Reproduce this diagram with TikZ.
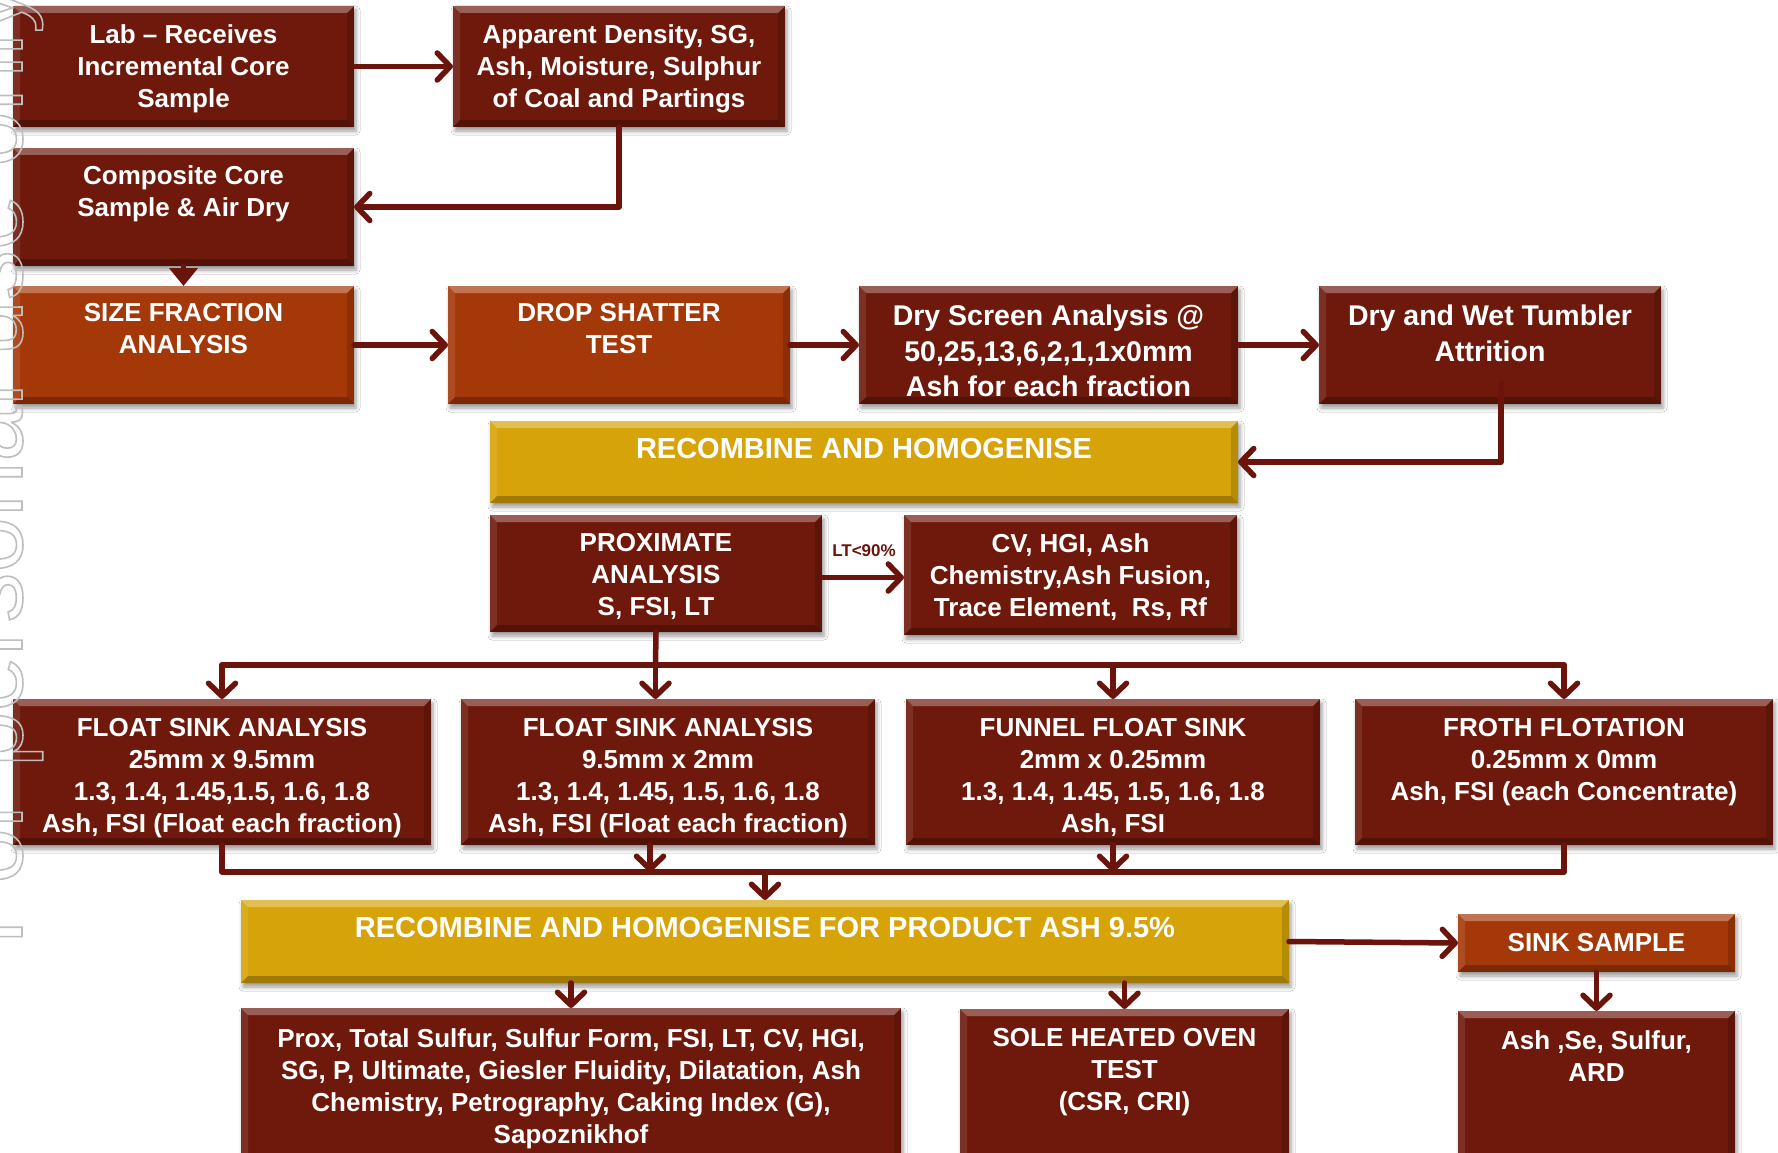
\documentclass[tikz,border=0pt]{standalone}
\usepackage{fontspec}
\newfontfamily\arial{Liberation Sans}
\usetikzlibrary{arrows.meta,shadows.blur}
\definecolor{dred}{RGB}{110,25,12}
\definecolor{orng}{RGB}{165,56,8}
\definecolor{ylw}{RGB}{214,164,8}
\definecolor{arr}{RGB}{106,20,12}
\definecolor{wmk}{RGB}{190,190,190}
\tikzset{
  bev/.style={path picture={
    \fill[white,opacity=0.30] (path picture bounding box.north west) -- (path picture bounding box.north east) -- ([xshift=-7pt,yshift=-7pt]path picture bounding box.north east) -- ([xshift=7pt,yshift=-7pt]path picture bounding box.north west) -- cycle;
    \fill[white,opacity=0.10] (path picture bounding box.north west) -- ([xshift=7pt,yshift=-7pt]path picture bounding box.north west) -- ([xshift=7pt,yshift=7pt]path picture bounding box.south west) -- (path picture bounding box.south west) -- cycle;
    \fill[black,opacity=0.15] (path picture bounding box.north east) -- ([xshift=-7pt,yshift=-7pt]path picture bounding box.north east) -- ([xshift=-7pt,yshift=7pt]path picture bounding box.south east) -- (path picture bounding box.south east) -- cycle;
    \fill[black,opacity=0.25] (path picture bounding box.south west) -- ([xshift=7pt,yshift=7pt]path picture bounding box.south west) -- ([xshift=-7pt,yshift=7pt]path picture bounding box.south east) -- (path picture bounding box.south east) -- cycle;
  }},
  boxbase/.style={rectangle, inner sep=0pt, outer sep=0pt, anchor=north west, bev,
    blur shadow={shadow xshift=2pt, shadow yshift=-4pt, shadow blur radius=4pt, shadow opacity=40}},
  dbox/.style={boxbase, fill=dred},
  obox/.style={boxbase, fill=orng},
  ybox/.style={boxbase, fill=ylw},
  txt/.style={anchor=north, inner sep=0pt, text=white, align=center, font=\arial\bfseries\fontsize{26}{32}\selectfont},
  bigtxt/.style={txt, font=\arial\bfseries\fontsize{28.5}{35.5}\selectfont},
  ytxt/.style={txt, font=\arial\bfseries\fontsize{29}{35}\selectfont},
  lttxt/.style={anchor=base, inner sep=0pt, text=arr, font=\arial\bfseries\fontsize{17}{20}\selectfont},
  conn/.style={draw=arr, line width=5.5pt, line cap=round, line join=round},
  arw/.style={conn, -{Straight Barb[length=13pt, width=27pt, round]}},
  tri/.style={conn, -{Triangle[length=18pt, width=28pt]}},
}
\begin{document}
\begin{tikzpicture}[x=1pt, y=-1pt]
\fill[white] (0,0) rectangle (1778,1153);
\useasboundingbox (0,0) rectangle (1778,1153);

% boxes
\node[dbox, minimum width=341pt, minimum height=121pt] (b1) at (13,6) {};
\node[dbox, minimum width=332pt, minimum height=121pt] (b2) at (453,6) {};
\node[dbox, minimum width=341pt, minimum height=118pt] (b3) at (13,148) {};
\node[obox, minimum width=341pt, minimum height=118pt] (b4) at (13,286) {};
\node[obox, minimum width=342pt, minimum height=118pt] (b5) at (448,286) {};
\node[dbox, minimum width=379pt, minimum height=118pt] (b6) at (859,286) {};
\node[dbox, minimum width=342pt, minimum height=118pt] (b7) at (1319,286) {};
\node[ybox, minimum width=748pt, minimum height=82pt] (y1) at (490,421) {};
\node[dbox, minimum width=332pt, minimum height=117pt] (p1) at (490,515) {};
\node[dbox, minimum width=333pt, minimum height=120pt] (cv) at (904,515) {};
\node[dbox, minimum width=418pt, minimum height=146pt] (f1) at (13,699) {};
\node[dbox, minimum width=414pt, minimum height=146pt] (f2) at (461,699) {};
\node[dbox, minimum width=414pt, minimum height=146pt] (f3) at (906,699) {};
\node[dbox, minimum width=418pt, minimum height=146pt] (f4) at (1355,699) {};
\node[ybox, minimum width=1048pt, minimum height=83pt] (y2) at (241,900) {};
\node[obox, minimum width=277pt, minimum height=58pt] (sk) at (1458,914) {};
\node[dbox, minimum width=660pt, minimum height=180pt] (r1) at (241,1008) {};
\node[dbox, minimum width=329pt, minimum height=180pt] (r2) at (960,1009) {};
\node[dbox, minimum width=277pt, minimum height=180pt] (r3) at (1458,1011) {};

% texts
\node[txt] (t1) at ([yshift=-18pt]b1.north) {Lab – Receives\\Incremental Core\\Sample};
\node[txt] (t2) at ([yshift=-18pt]b2.north) {Apparent Density, SG,\\Ash, Moisture, Sulphur\\of Coal and Partings};
\node[txt] (t3) at ([yshift=-17pt]b3.north) {Composite Core\\Sample \& Air Dry};
\node[txt] (t4) at ([yshift=-17pt]b4.north) {SIZE FRACTION\\ANALYSIS};
\node[txt] (t5) at ([yshift=-17pt]b5.north) {DROP SHATTER\\TEST};
\node[bigtxt] (t6) at ([yshift=-19pt]b6.north) {Dry Screen Analysis @\\50,25,13,6,2,1,1x0mm\\Ash for each fraction};
\node[bigtxt] (t7) at ([yshift=-19pt]b7.north) {Dry and Wet Tumbler\\Attrition};
\node[ytxt] (ty1) at ([yshift=-17pt]y1.north) {RECOMBINE AND HOMOGENISE};
\node[txt] (tp1) at ([yshift=-18pt]p1.north) {PROXIMATE\\ANALYSIS\\S, FSI, LT};
\node[txt] (tcv) at ([yshift=-18pt]cv.north) {CV, HGI, Ash\\Chemistry,Ash Fusion,\\Trace Element, \ Rs, Rf};
\node[txt] (tf1) at ([yshift=-19pt]f1.north) {FLOAT SINK ANALYSIS\\25mm x 9.5mm\\1.3, 1.4, 1.45,1.5, 1.6, 1.8\\Ash, FSI (Float each fraction)};
\node[txt] (tf2) at ([yshift=-19pt]f2.north) {FLOAT SINK ANALYSIS\\9.5mm x 2mm\\1.3, 1.4, 1.45, 1.5, 1.6, 1.8\\Ash, FSI (Float each fraction)};
\node[txt] (tf3) at ([yshift=-19pt]f3.north) {FUNNEL FLOAT SINK\\2mm x 0.25mm\\1.3, 1.4, 1.45, 1.5, 1.6, 1.8\\Ash, FSI};
\node[txt] (tf4) at ([yshift=-19pt]f4.north) {FROTH FLOTATION\\0.25mm x 0mm\\Ash, FSI (each Concentrate)};
\node[ytxt] (ty2) at ([yshift=-17pt]y2.north) {RECOMBINE AND HOMOGENISE FOR PRODUCT ASH 9.5\%};
\node[txt] (tsk) at ([yshift=-19pt]sk.north) {SINK SAMPLE};
\node[txt] (tr1) at ([yshift=-20pt]r1.north) {Prox, Total Sulfur, Sulfur Form, FSI, LT, CV, HGI,\\SG, P, Ultimate, Giesler Fluidity, Dilatation, Ash\\Chemistry, Petrography, Caking Index (G),\\Sapoznikhof};
\node[txt] (tr2) at ([yshift=-19pt]r2.north) {SOLE HEATED OVEN\\TEST\\(CSR, CRI)};
\node[txt] (tr3) at ([yshift=-19pt]r3.north) {Ash ,Se, Sulfur,\\ARD};
\node[lttxt] (lt) at (864,556) {LT<90\%};

% connectors
\draw[arw] (b1.east) -- (b2.west);
\draw[arw] (b2.south) |- (b3.east);
\draw[tri] (b3.south) -- (b4.north);
\draw[arw] (b4.east) -- (b5.west);
\draw[arw] (b5.east) -- (b6.west);
\draw[arw] (b6.east) -- (b7.west);
\draw[arw] ([shift={(11pt,20pt)}]b7.south) |- (y1.east);
\draw[arw] ([yshift=-4pt]p1.east) -- ([yshift=-4pt]p1.east -| cv.west);

\coordinate (bus1) at (655.5,665);
\coordinate (busL) at (222,665);
\coordinate (busR) at (1564,665);
\draw[conn] (p1.south) -- (bus1);
\draw[conn] (busL) -- (busR);
\draw[arw] (busL) -- (f1.north);
\draw[arw] (bus1) -- (bus1 |- f2.north);
\draw[arw] (bus1 -| f3.north) -- (f3.north);
\draw[arw] (busR) -- (f4.north);

\coordinate (lbL) at (222,872);
\coordinate (lbR) at (1564,872);
\draw[conn] (f1.south) -- (lbL) -- (lbR) -- (f4.south);
\draw[arw] ([xshift=-18pt]f2.south) -- ([xshift=-18pt]f2.south |- lbL);
\draw[arw] (f3.south) -- (f3.south |- lbL);
\draw[arw] (y2.north |- lbL) -- (y2.north);

\draw[arw] (y2.east) -- (sk.west);
\draw[arw] (y2.south -| r1.north) -- (r1.north);
\draw[arw] (y2.south -| r2.north) -- (r2.north);
\draw[arw] (sk.south) -- (r3.north);

% watermark
\node[rotate=90, anchor=base west, inner sep=0pt, text=wmk, font=\arial\fontsize{100}{100}\selectfont] (wm) at (22,945)
  {\special{pdf:literal direct 1 Tr 1.6 w}For personal use only\special{pdf:literal direct 0 Tr}};
\end{tikzpicture}
\end{document}
